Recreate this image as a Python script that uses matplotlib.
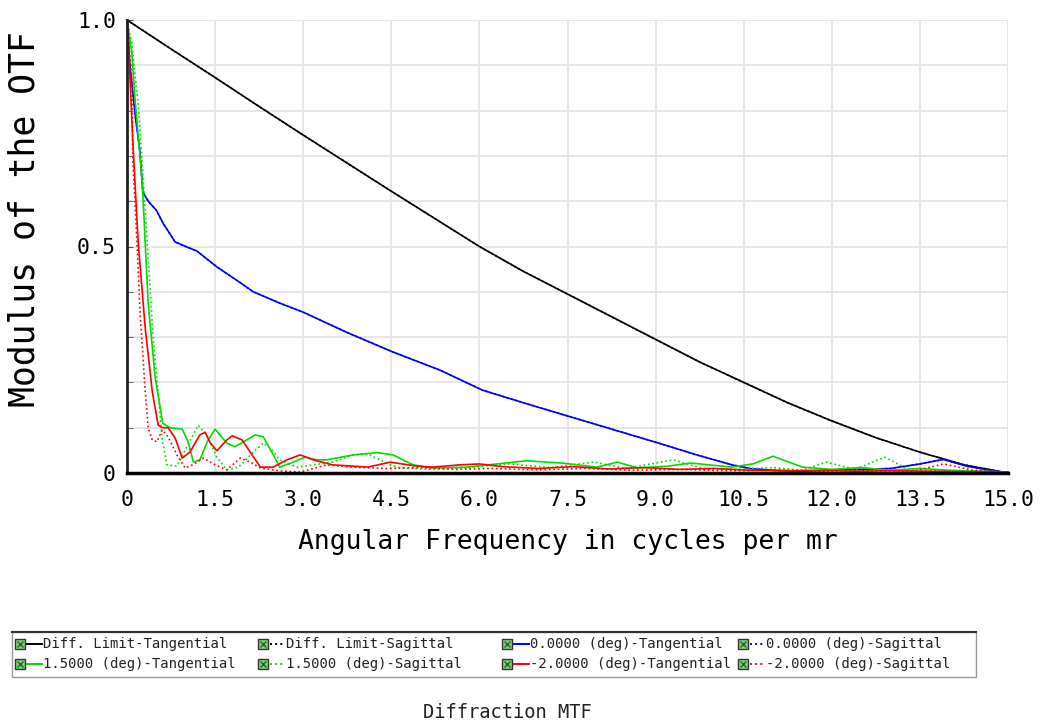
import matplotlib
matplotlib.use("Agg")
import matplotlib.pyplot as plt
from matplotlib.lines import Line2D
from matplotlib.patches import Rectangle

# spatial frequency (cycles per mr) and MTF readings for each field
freq_diff = [0, 0.75, 1.5, 2.25, 3.0, 3.75, 4.5, 5.25, 6.0, 6.75, 7.5, 8.25, 9.0,
             9.75, 10.5, 11.25, 12.0, 12.75, 13.5, 14.25, 15.0]
mtf_diff = [1.0, 0.936, 0.873, 0.809, 0.746, 0.684, 0.622, 0.561, 0.50, 0.445, 0.395,
            0.345, 0.295, 0.245, 0.20, 0.155, 0.115, 0.078, 0.046, 0.018, 0.0]

freq_00 = [0, 0.05, 0.14, 0.22, 0.27, 0.36, 0.5, 0.62, 0.82, 1.0, 1.19, 1.53, 1.93,
           2.15, 2.6, 3.0, 3.75, 4.53, 5.33, 6.05, 6.8, 7.55, 8.3, 9.05, 9.7, 10.3,
           10.6, 11.0, 11.5, 12.0, 12.5, 13.0, 13.5, 13.9, 14.3, 14.7, 15.0]
mtf_00_t = [1.0, 0.9, 0.79, 0.71, 0.62, 0.60, 0.58, 0.55, 0.51, 0.50, 0.49, 0.455,
            0.42, 0.40, 0.375, 0.355, 0.31, 0.267, 0.227, 0.183, 0.153, 0.124, 0.095,
            0.066, 0.04, 0.018, 0.01, 0.006, 0.004, 0.006, 0.008, 0.01, 0.02, 0.03,
            0.015, 0.006, 0.0]
mtf_00_s = list(mtf_00_t)

freq_15_t = [0, 0.08, 0.14, 0.26, 0.36, 0.48, 0.61, 0.73, 0.94, 1.04, 1.13, 1.24,
             1.37, 1.5, 1.7, 1.84, 2.0, 2.18, 2.32, 2.52, 2.6, 2.83, 3.03, 3.24, 3.4,
             3.85, 4.26, 4.53, 4.87, 5.2, 5.8, 6.3, 6.8, 7.4, 8.0, 8.35, 8.7, 9.2,
             9.6, 10.3, 10.65, 11.0, 11.5, 12.0, 12.5, 13.0, 13.5, 14.0, 14.5, 15.0]
mtf_15_t = [1.0, 0.93, 0.82, 0.64, 0.375, 0.21, 0.11, 0.10, 0.097, 0.069, 0.024,
            0.029, 0.07, 0.097, 0.066, 0.058, 0.07, 0.084, 0.08, 0.033, 0.013, 0.024,
            0.035, 0.029, 0.029, 0.04, 0.045, 0.04, 0.018, 0.011, 0.013, 0.02, 0.027,
            0.022, 0.013, 0.024, 0.011, 0.015, 0.022, 0.013, 0.02, 0.037, 0.013,
            0.008, 0.012, 0.006, 0.01, 0.006, 0.004, 0.002]

freq_15_s = [0, 0.08, 0.2, 0.3, 0.45, 0.51, 0.6, 0.68, 0.85, 1.02, 1.21, 1.36, 1.53,
             1.7, 1.9, 2.15, 2.32, 2.47, 2.6, 2.9, 3.5, 3.85, 4.1, 4.48, 4.65, 5.2,
             5.8, 6.5, 7.2, 7.95, 8.5, 9.3, 9.8, 10.4, 11.0, 11.5, 11.9, 12.4, 12.9,
             13.3, 13.8, 14.4, 15.0]
mtf_15_s = [1.0, 0.95, 0.8, 0.6, 0.29, 0.205, 0.073, 0.018, 0.015, 0.058, 0.105,
            0.084, 0.035, 0.007, 0.013, 0.046, 0.066, 0.051, 0.029, 0.013, 0.024,
            0.04, 0.042, 0.018, 0.011, 0.008, 0.012, 0.02, 0.012, 0.024, 0.01, 0.029,
            0.01, 0.008, 0.012, 0.006, 0.024, 0.008, 0.035, 0.008, 0.005, 0.004, 0.002]

freq_m20_t = [0, 0.02, 0.1, 0.19, 0.31, 0.43, 0.53, 0.6, 0.7, 0.82, 0.94, 1.07, 1.24,
              1.33, 1.41, 1.53, 1.7, 1.79, 1.96, 2.13, 2.27, 2.49, 2.72, 2.95, 3.17,
              3.5, 4.1, 4.48, 4.94, 5.2, 5.67, 6.0, 6.4, 7.0, 7.6, 8.2, 8.8, 9.4, 10.0,
              10.6, 11.2, 11.8, 12.4, 13.0, 13.6, 14.2, 15.0]
mtf_m20_t = [1.0, 0.96, 0.73, 0.51, 0.32, 0.18, 0.106, 0.10, 0.10, 0.077, 0.033,
             0.046, 0.084, 0.09, 0.068, 0.049, 0.073, 0.082, 0.073, 0.04, 0.013, 0.013,
             0.029, 0.04, 0.029, 0.018, 0.013, 0.024, 0.015, 0.013, 0.018, 0.02, 0.014,
             0.01, 0.014, 0.009, 0.012, 0.008, 0.01, 0.006, 0.005, 0.006, 0.004, 0.005,
             0.004, 0.003, 0.002]

freq_m20_s = [0, 0.08, 0.1, 0.17, 0.22, 0.31, 0.36, 0.43, 0.51, 0.6, 0.7, 0.85, 0.99,
              1.15, 1.3, 1.5, 1.7, 1.93, 2.1, 2.27, 2.6, 2.95, 3.4, 3.85, 4.4, 5.0,
              5.6, 6.2, 7.0, 7.8, 8.6, 9.4, 10.2, 11.0, 11.8, 12.6, 13.4, 13.9, 14.4, 15.0]
mtf_m20_s = [1.0, 0.87, 0.69, 0.51, 0.36, 0.18, 0.10, 0.073, 0.069, 0.095, 0.08, 0.04,
             0.011, 0.02, 0.033, 0.018, 0.007, 0.033, 0.024, 0.011, 0.005, 0.002, 0.018,
             0.013, 0.01, 0.012, 0.008, 0.01, 0.007, 0.01, 0.006, 0.008, 0.005, 0.006,
             0.004, 0.005, 0.004, 0.02, 0.006, 0.002]

x_ticks = [0, 1.5, 3.0, 4.5, 6.0, 7.5, 9.0, 10.5, 12.0, 13.5, 15.0]
x_labels = ['0', '1.5', '3.0', '4.5', '6.0', '7.5', '9.0', '10.5', '12.0', '13.5', '15.0']
y_ticks = [0, 0.5, 1.0]
y_labels = ['0', '0.5', '1.0']

labels = ['Diff. Limit-Tangential', 'Diff. Limit-Sagittal',
          '0.0000 (deg)-Tangential', '0.0000 (deg)-Sagittal',
          '1.5000 (deg)-Tangential', '1.5000 (deg)-Sagittal',
          '-2.0000 (deg)-Tangential', '-2.0000 (deg)-Sagittal']

series = [
    (freq_diff, mtf_diff, 'black', '-'),
    (freq_diff, mtf_diff, 'black', ':'),
    (freq_00, mtf_00_s, '#0000ff', ':'),
    (freq_00, mtf_00_t, '#0000ff', '-'),
    (freq_15_t, mtf_15_t, '#00dd00', '-'),
    (freq_15_s, mtf_15_s, '#00dd00', ':'),
    (freq_m20_t, mtf_m20_t, '#ff0000', '-'),
    (freq_m20_s, mtf_m20_s, '#ff0000', ':'),
]
legend_style = [('black', '-'), ('black', ':'), ('#0000ff', '-'), ('#0000ff', ':'),
                ('#00dd00', '-'), ('#00dd00', ':'), ('#ff0000', '-'), ('#ff0000', ':')]

mono = 'DejaVu Sans Mono'
plt.rcParams['font.family'] = mono

fig = plt.figure(figsize=(10.42, 7.28), dpi=100)
ax = fig.add_axes([127 / 1042, 1 - 473 / 728, 881 / 1042, 453 / 728])

for fx, my, col, ls in series:
    ax.plot(fx, my, color=col, linestyle=ls, linewidth=1.2, clip_on=False)

ax.set_xlim(0, 15)
ax.set_ylim(0, 1.0)
ax.set_xticks(x_ticks)
ax.set_xticklabels(x_labels, fontsize=15.5)
ax.set_yticks(y_ticks)
ax.set_yticklabels(y_labels, fontsize=15.5)
ax.set_yticks([i / 10 for i in range(11)], minor=True)
ax.grid(True, which='both', color='#e4e4e4', linewidth=1.3)
ax.set_axisbelow(True)
ax.tick_params(axis='x', length=0, pad=12)
ax.tick_params(axis='y', which='both', length=4, direction='in', pad=8, color='#555555')
for side in ('top', 'right'):
    ax.spines[side].set_visible(False)
ax.spines['left'].set_color('#222222')
ax.spines['left'].set_linewidth(2)
ax.spines['bottom'].set_color('black')
ax.spines['bottom'].set_linewidth(2.5)

ax.set_xlabel('Angular Frequency in cycles per mr', fontsize=19, labelpad=14)
ax.set_ylabel('Modulus of the OTF', fontsize=25)
ax.yaxis.set_label_coords(-0.097, 0.56)

# legend box drawn by hand: checkbox, line sample, label
W, H = 1042, 728
fig.patches.append(Rectangle((12 / W, 1 - 677 / H), 964 / W, 45 / H,
                             transform=fig.transFigure, facecolor='white',
                             edgecolor='#999999', linewidth=1))
fig.lines.append(Line2D([12 / W, 976 / W], [1 - 632 / H, 1 - 632 / H],
                        transform=fig.transFigure, color='#333333', linewidth=1.5))
col_x = [15, 258, 502, 738]
row_y = [644, 664]
for i, (lab, (col, ls)) in enumerate(zip(labels, legend_style)):
    cx = col_x[i % 4]
    cy = row_y[i // 4]
    fy = 1 - cy / H
    fig.lines.append(Line2D([(cx + 5) / W], [fy], transform=fig.transFigure,
                            marker='s', markersize=7, markerfacecolor='#7fd17f',
                            markeredgecolor='#333333', markeredgewidth=1, linestyle=''))
    fig.lines.append(Line2D([(cx + 5) / W], [fy], transform=fig.transFigure,
                            marker='x', markersize=4, markeredgecolor='#1a6b1a',
                            markeredgewidth=1, linestyle=''))
    fig.lines.append(Line2D([(cx + 12) / W, (cx + 27) / W], [fy, fy],
                            transform=fig.transFigure, color=col, linestyle=ls,
                            linewidth=1.4))
    fig.text((cx + 28) / W, fy, lab, fontsize=10, va='center', ha='left',
             color='#222222')

fig.text(507 / W, 1 - 713 / H, 'Diffraction MTF', fontsize=13.5, ha='center',
         va='center', color='#222222')

fig.savefig('out.png', dpi=100)
